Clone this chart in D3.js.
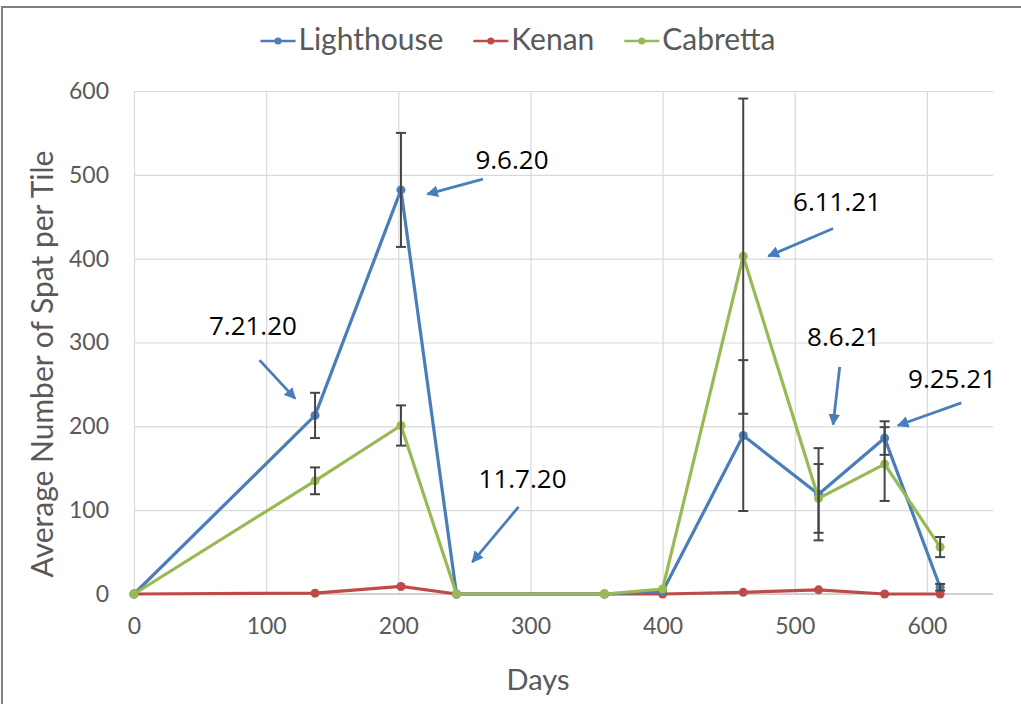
<!DOCTYPE html>
<html>
<head>
<meta charset="utf-8">
<script src="https://cdn.jsdelivr.net/npm/d3@7"></script>
<style>
  body { margin: 0; background: #fff; }
  .tick text { font-family: Lato, sans-serif; fill: #595959; }
</style>
</head>
<body>
<div class="chart"></div>
<script>
// Spat per tile over days, three sites
var days = [0, 137, 202, 244, 356, 400, 461, 518, 568, 610];
var lighthouse = [0, 213, 482, 0, 0, 3, 189, 119, 186, 8];
var lighthouseErr = [0, 27, 68, 0, 0, 0, 90, 55, 20, 4];
var kenan = [0, 1, 9, 0, 0, 0, 2, 5, 0, 0];
var cabretta = [0, 135, 201, 0, 0, 6, 403, 114, 155, 56];
var cabrettaErr = [0, 16, 24, 0, 0, 0, 188, 41, 44, 12];
var xTicks = [0, 100, 200, 300, 400, 500, 600];
var yTicks = [0, 100, 200, 300, 400, 500, 600];

// date callouts: label position and arrow (from -> to), in days / spat
var notes = [
  {label: "7.21.20", tx: 90, ty: 320, x1: 95, y1: 279, x2: 122, y2: 233},
  {label: "9.6.20", tx: 286, ty: 518, x1: 264, y1: 495, x2: 222, y2: 477},
  {label: "11.7.20", tx: 294, ty: 138, x1: 291, y1: 104, x2: 256, y2: 38},
  {label: "6.11.21", tx: 532, ty: 468, x1: 529, y1: 436, x2: 480, y2: 403},
  {label: "8.6.21", tx: 537, ty: 307, x1: 534, y1: 271, x2: 529, y2: 202},
  {label: "9.25.21", tx: 619, ty: 257, x1: 626, y1: 228, x2: 578, y2: 201}
];

var svgWidth = 1021;
var svgHeight = 704;

var margin = {top: 91, right: 28, bottom: 110, left: 134};
var width = svgWidth - margin.left - margin.right;
var height = svgHeight - margin.top - margin.bottom;

var svg = d3.select(".chart")
  .append("svg")
  .attr("width", svgWidth)
  .attr("height", svgHeight);

// outer frame
svg.append("rect")
  .attr("x", 2).attr("y", 7)
  .attr("width", 1040).attr("height", 720)
  .attr("fill", "none")
  .attr("stroke", "#808080")
  .attr("stroke-width", 2);

var chartGroup = svg.append("g")
  .attr("transform", `translate(${margin.left}, ${margin.top})`);

var xScale = d3.scaleLinear().domain([0, 650]).range([0, width]);
var yScale = d3.scaleLinear().domain([0, 600]).range([height, 0]);

// gridlines
chartGroup.append("g")
  .call(d3.axisLeft(yScale).tickValues(yTicks).tickSize(-width).tickFormat(""))
  .call(g => g.select(".domain").remove())
  .selectAll("line").attr("stroke", "#d9d9d9").attr("stroke-width", 1.2);

chartGroup.append("g")
  .attr("transform", `translate(0, ${height})`)
  .call(d3.axisBottom(xScale).tickValues(xTicks).tickSize(-height).tickFormat(""))
  .call(g => g.select(".domain").remove())
  .selectAll("line").attr("stroke", "#d9d9d9").attr("stroke-width", 1.2);

// axis line at zero
chartGroup.append("line")
  .attr("x1", 0).attr("x2", width)
  .attr("y1", height).attr("y2", height)
  .attr("stroke", "#c8c8c8").attr("stroke-width", 1.5);

// tick labels
var bottomAxis = chartGroup.append("g")
  .attr("transform", `translate(0, ${height})`)
  .call(d3.axisBottom(xScale).tickValues(xTicks).tickSize(0).tickPadding(24));
bottomAxis.select(".domain").remove();
bottomAxis.selectAll("text").attr("font-size", "23px").attr("dy", "0.71em");

var leftAxis = chartGroup.append("g")
  .call(d3.axisLeft(yScale).tickValues(yTicks).tickSize(0).tickPadding(25));
leftAxis.select(".domain").remove();
leftAxis.selectAll("text").attr("font-size", "23px");

var series = [
  {name: "Lighthouse", values: lighthouse, err: lighthouseErr, color: "#4a7ebb"},
  {name: "Kenan", values: kenan, err: null, color: "#be4b48"},
  {name: "Cabretta", values: cabretta, err: cabrettaErr, color: "#98b954"}
];

var line = d3.line()
  .x(d => xScale(d.day))
  .y(d => yScale(d.v));

// draw Kenan first, then Lighthouse, Cabretta on top
[series[1], series[0], series[2]].forEach(function(s) {
  var pts = days.map((d, i) => ({day: d, v: s.values[i]}));
  chartGroup.append("path")
    .datum(pts)
    .attr("d", line)
    .attr("fill", "none")
    .attr("stroke", s.color)
    .attr("stroke-width", 3.2)
    .attr("stroke-linejoin", "round");
  chartGroup.selectAll(null)
    .data(pts)
    .enter()
    .append("circle")
    .attr("cx", d => xScale(d.day))
    .attr("cy", d => yScale(d.v))
    .attr("r", 4.5)
    .attr("fill", s.color);
});

// error bars
series.filter(s => s.err).forEach(function(s) {
  var bars = days.map((d, i) => ({day: d, v: s.values[i], e: s.err[i]})).filter(d => d.e > 0);
  var g = chartGroup.append("g").attr("stroke", "#454545").attr("stroke-width", 2);
  bars.forEach(function(d) {
    var x = xScale(d.day);
    var y1 = yScale(d.v + d.e), y2 = yScale(d.v - d.e);
    g.append("line").attr("x1", x).attr("x2", x).attr("y1", y1).attr("y2", y2);
    g.append("line").attr("x1", x - 5).attr("x2", x + 5).attr("y1", y1).attr("y2", y1);
    g.append("line").attr("x1", x - 5).attr("x2", x + 5).attr("y1", y2).attr("y2", y2);
  });
});

// callouts
svg.append("defs").append("marker")
  .attr("id", "head")
  .attr("viewBox", "0 0 10 10")
  .attr("refX", 9).attr("refY", 5)
  .attr("markerWidth", 4.2).attr("markerHeight", 4.2)
  .attr("orient", "auto")
  .append("path")
  .attr("d", "M0,0 L10,5 L0,10 Z")
  .attr("fill", "#4a7ebb");

notes.forEach(function(n) {
  chartGroup.append("line")
    .attr("x1", xScale(n.x1)).attr("y1", yScale(n.y1))
    .attr("x2", xScale(n.x2)).attr("y2", yScale(n.y2))
    .attr("stroke", "#4a7ebb")
    .attr("stroke-width", 2.8)
    .attr("marker-end", "url(#head)");
  chartGroup.append("text")
    .attr("x", xScale(n.tx))
    .attr("y", yScale(n.ty))
    .attr("dy", "0.36em")
    .attr("text-anchor", "middle")
    .attr("font-family", "'Open Sans', sans-serif")
    .attr("font-size", "26px")
    .attr("fill", "#000")
    .text(n.label);
});

// axis titles
svg.append("text")
  .attr("transform", "rotate(-90)")
  .attr("x", -364)
  .attr("y", 53)
  .attr("text-anchor", "middle")
  .attr("font-family", "Lato, sans-serif")
  .attr("font-size", "30px")
  .attr("fill", "#595959")
  .text("Average Number of Spat per Tile");

svg.append("text")
  .attr("x", 538)
  .attr("y", 690)
  .attr("text-anchor", "middle")
  .attr("font-family", "Lato, sans-serif")
  .attr("font-size", "29px")
  .attr("fill", "#595959")
  .text("Days");

// legend
var legend = svg.append("g");
var lx = 0;
series.forEach(function(s, i) {
  var item = legend.append("g").attr("transform", `translate(${lx}, 0)`);
  item.append("line").attr("x1", 0).attr("x2", 35).attr("y1", 0).attr("y2", 0)
    .attr("stroke", s.color).attr("stroke-width", 2.6);
  item.append("circle").attr("cx", 17.5).attr("cy", 0).attr("r", 3.5).attr("fill", s.color);
  var t = item.append("text")
    .attr("x", 38).attr("y", 9)
    .attr("font-family", "Lato, sans-serif")
    .attr("font-size", "30px")
    .attr("fill", "#595959")
    .text(s.name);
  lx += 38 + t.node().getComputedTextLength() + 30;
});
legend.attr("transform", `translate(${518 - (lx - 30) / 2}, 41)`);
</script>
</body>
</html>
